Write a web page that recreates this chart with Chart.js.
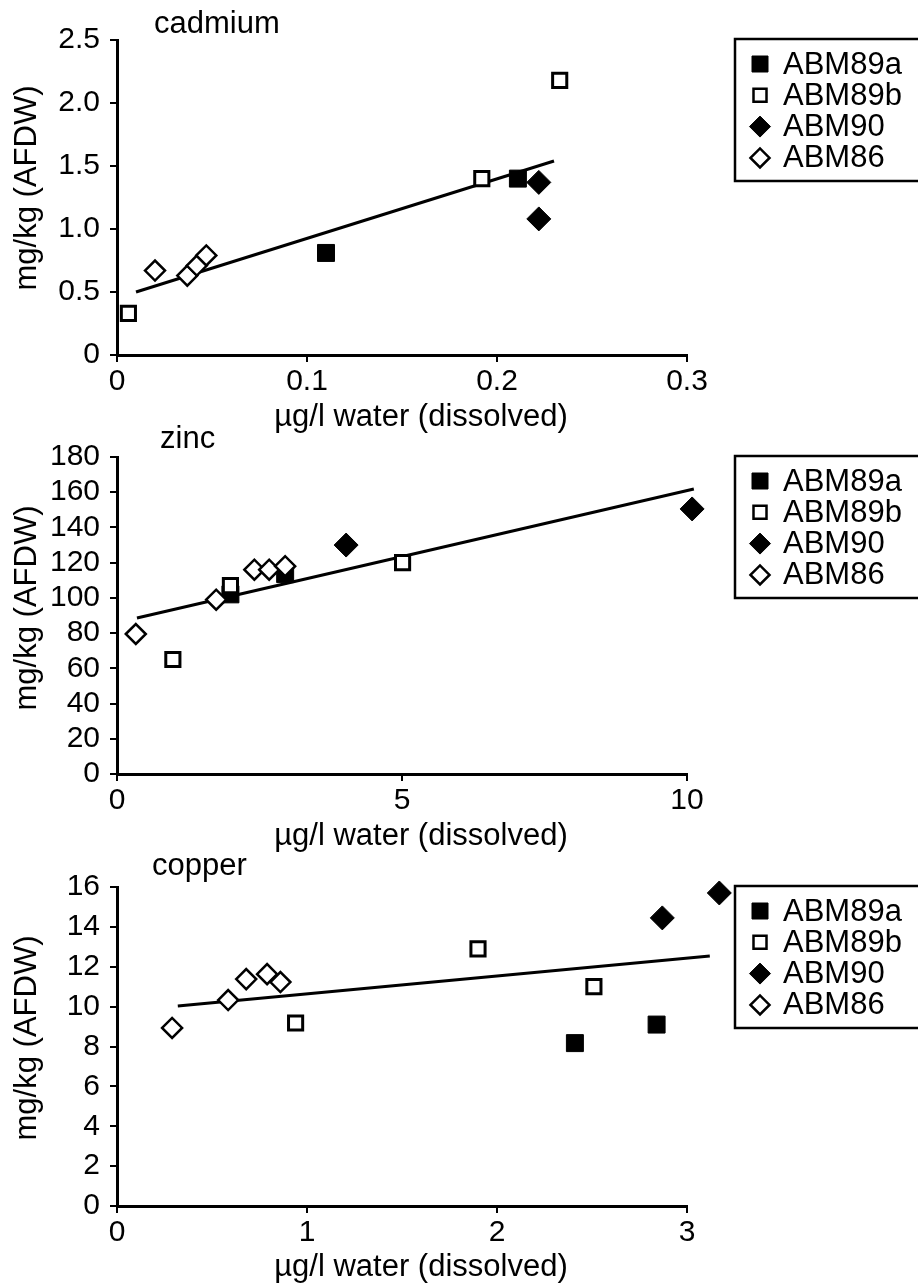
<!DOCTYPE html>
<html>
<head>
<meta charset="utf-8">
<script src="https://cdn.jsdelivr.net/npm/chart.js@4.4.1/dist/chart.umd.min.js"></script>
<style>
  body { margin: 0; background: #fff; width: 918px; height: 1284px; position: relative; overflow: hidden; }
  .panel { position: absolute; left: 0; width: 918px; }
</style>
</head>
<body>
<div class="panel" style="top:0;height:435px"><canvas id="cd"></canvas></div>
<div class="panel" style="top:420px;height:433px"><canvas id="zn"></canvas></div>
<div class="panel" style="top:853px;height:431px"><canvas id="cu"></canvas></div>
<script>
const seriesNames = ['ABM89a', 'ABM89b', 'ABM90', 'ABM86'];
const xTitle = 'µg/l water (dissolved)';
const yTitle = 'mg/kg (AFDW)';

// cadmium
const cdABM89a = [{x: 0.110, y: 0.81}, {x: 0.211, y: 1.40}];
const cdABM89b = [{x: 0.006, y: 0.33}, {x: 0.192, y: 1.40}, {x: 0.233, y: 2.18}];
const cdABM90 = [{x: 0.222, y: 1.37}, {x: 0.222, y: 1.08}];
const cdABM86 = [{x: 0.020, y: 0.67}, {x: 0.037, y: 0.63}, {x: 0.042, y: 0.71}, {x: 0.047, y: 0.79}];
const cdFit = [{x: 0.010, y: 0.50}, {x: 0.230, y: 1.54}];
const cdXTicks = ['0', '0.1', '0.2', '0.3'];
const cdYTicks = ['0', '0.5', '1.0', '1.5', '2.0', '2.5'];

// zinc
const znABM89a = [{x: 1.99, y: 102}, {x: 2.95, y: 113.5}];
const znABM89b = [{x: 0.98, y: 65}, {x: 1.99, y: 107}, {x: 5.01, y: 120}];
const znABM90 = [{x: 4.02, y: 130}, {x: 10.09, y: 150.5}];
const znABM86 = [{x: 0.33, y: 79.5}, {x: 1.74, y: 99}, {x: 2.41, y: 116}, {x: 2.67, y: 116}, {x: 2.95, y: 118}];
const znFit = [{x: 0.35, y: 88.6}, {x: 10.12, y: 161.8}];
const znXTicks = ['0', '5', '10'];
const znYTicks = ['0', '20', '40', '60', '80', '100', '120', '140', '160', '180'];

// copper
const cuABM89a = [{x: 2.41, y: 8.17}, {x: 2.84, y: 9.1}];
const cuABM89b = [{x: 0.94, y: 9.18}, {x: 1.90, y: 12.9}, {x: 2.51, y: 11.0}];
const cuABM90 = [{x: 2.87, y: 14.45}, {x: 3.17, y: 15.7}];
const cuABM86 = [{x: 0.29, y: 8.93}, {x: 0.585, y: 10.33}, {x: 0.68, y: 11.38}, {x: 0.79, y: 11.63}, {x: 0.86, y: 11.23}];
const cuFit = [{x: 0.32, y: 10.03}, {x: 3.12, y: 12.54}];
const cuXTicks = ['0', '1', '2', '3'];
const cuYTicks = ['0', '2', '4', '6', '8', '10', '12', '14', '16'];

const FONT = '"Liberation Sans", Arial, Helvetica, sans-serif';
Chart.defaults.font.family = FONT;
Chart.defaults.color = '#000';

function seriesSet(a, b, c, d, fit) {
  return [
    {label: seriesNames[0], data: a, pointStyle: 'rect', pointRadius: 12, backgroundColor: '#000', borderColor: '#000', borderWidth: 1, order: 3},
    {label: seriesNames[1], data: b, pointStyle: 'rect', pointRadius: 10, backgroundColor: '#fff', borderColor: '#000', borderWidth: 3, order: 1},
    {label: seriesNames[2], data: c, pointStyle: 'rectRot', pointRadius: 12, backgroundColor: '#000', borderColor: '#000', borderWidth: 1, order: 4},
    {label: seriesNames[3], data: d, pointStyle: 'rectRot', pointRadius: 10, backgroundColor: '#fff', borderColor: '#000', borderWidth: 2.5, order: 2},
    {label: 'fit', data: fit, showLine: true, pointRadius: 0, borderColor: '#000', borderWidth: 3, order: 5}
  ].map(ds => Object.assign({clip: false, pointHoverRadius: ds.pointRadius}, ds));
}

// points past the end of the x axis (copper, x > 3) are skipped by Chart.js,
// so widen the area while the datasets are drawn
const offAxisPoints = {
  id: 'offAxisPoints',
  beforeDatasetsDraw(chart) {
    const a = chart.chartArea;
    chart._realArea = a;
    chart.chartArea = {left: a.left, top: a.top - 40, right: a.right + 60, bottom: a.bottom, width: a.width + 60, height: a.height + 40};
  },
  afterDatasetsDraw(chart) {
    chart.chartArea = chart._realArea;
  }
};

// titles, axis titles and the boxed legend
const panelText = {
  id: 'panelText',
  afterDraw(chart, args, o) {
    const ctx = chart.ctx;
    ctx.save();
    ctx.fillStyle = '#000';
    ctx.font = '31px ' + FONT;
    ctx.textBaseline = 'alphabetic';
    ctx.textAlign = 'left';
    ctx.fillText(o.title, o.titleX, o.titleY);
    ctx.textAlign = 'center';
    ctx.fillText(xTitle, 421, o.xTitleY);
    ctx.save();
    ctx.translate(36, o.yTitleY);
    ctx.rotate(-Math.PI / 2);
    ctx.fillText(yTitle, 0, 0);
    ctx.restore();

    // legend
    const top = chart.chartArea.top - 1;
    ctx.strokeStyle = '#000';
    ctx.lineWidth = 2.5;
    ctx.strokeRect(735, top, 220, 142);
    ctx.textAlign = 'left';
    ctx.textBaseline = 'middle';
    chart.data.datasets.filter(d => seriesNames.includes(d.label)).forEach((d, i) => {
      const y = top + 25 + i * 31.3;
      const x = 760;
      ctx.beginPath();
      if (d.pointStyle === 'rect') {
        const s = d.backgroundColor === '#000' ? 8 : 6.5;
        ctx.rect(x - s, y - s, 2 * s, 2 * s);
      } else {
        const r = d.backgroundColor === '#000' ? 10.5 : 9.5;
        ctx.moveTo(x - r, y); ctx.lineTo(x, y - r); ctx.lineTo(x + r, y); ctx.lineTo(x, y + r);
        ctx.closePath();
      }
      ctx.fillStyle = d.backgroundColor;
      ctx.fill();
      ctx.lineWidth = d.backgroundColor === '#000' ? 1 : 2.5;
      ctx.stroke();
      ctx.fillStyle = '#000';
      ctx.fillText(d.label, 783, y + 1);
    });
    ctx.restore();
  }
};

function makeChart(id, datasets, o) {
  return new Chart(document.getElementById(id), {
    type: 'scatter',
    data: {datasets: datasets},
    plugins: [offAxisPoints, panelText],
    options: {
      animation: false,
      responsive: true,
      maintainAspectRatio: false,
      layout: {padding: {top: o.areaTop, right: 231, bottom: 0, left: 0}},
      plugins: {
        legend: {display: false},
        tooltip: {enabled: false},
        panelText: o.text
      },
      scales: {
        x: {
          type: 'linear', min: o.xMin, max: o.xMax,
          ticks: {stepSize: o.xStep, padding: 5, maxRotation: 0, font: {size: 30, lineHeight: 1}, callback: (v, i) => o.xLabels[i] ?? v},
          grid: {drawOnChartArea: false, tickLength: 7, color: '#000', lineWidth: 2},
          border: {color: '#000', width: 3},
          afterFit: s => { s.height = o.xH; }
        },
        y: {
          type: 'linear', min: o.yMin, max: o.yMax,
          ticks: {stepSize: o.yStep, padding: 10, font: {size: 30, lineHeight: 1}, callback: (v, i) => o.yLabels[i] ?? v},
          grid: {drawOnChartArea: false, tickLength: 7, color: '#000', lineWidth: 2},
          border: {color: '#000', width: 3},
          afterFit: s => { s.width = 117; }
        }
      }
    }
  });
}

makeChart('cd', seriesSet(cdABM89a, cdABM89b, cdABM90, cdABM86, cdFit), {
  areaTop: 40, xH: 80, xMin: 0, xMax: 0.3, xStep: 0.1, yMin: 0, yMax: 2.5, yStep: 0.5,
  xLabels: cdXTicks, yLabels: cdYTicks,
  text: {title: 'cadmium', titleX: 154, titleY: 33, xTitleY: 426, yTitleY: 188}
});
makeChart('zn', seriesSet(znABM89a, znABM89b, znABM90, znABM86, znFit), {
  areaTop: 37, xH: 79, xMin: 0, xMax: 10, xStep: 5, yMin: 0, yMax: 180, yStep: 20,
  xLabels: znXTicks, yLabels: znYTicks,
  text: {title: 'zinc', titleX: 160, titleY: 28, xTitleY: 425, yTitleY: 188}
});
makeChart('cu', seriesSet(cuABM89a, cuABM89b, cuABM90, cuABM86, cuFit), {
  areaTop: 34, xH: 78, xMin: 0, xMax: 3, xStep: 1, yMin: 0, yMax: 16, yStep: 2,
  xLabels: cuXTicks, yLabels: cuYTicks,
  text: {title: 'copper', titleX: 152, titleY: 22, xTitleY: 423, yTitleY: 185}
});
</script>
</body>
</html>
